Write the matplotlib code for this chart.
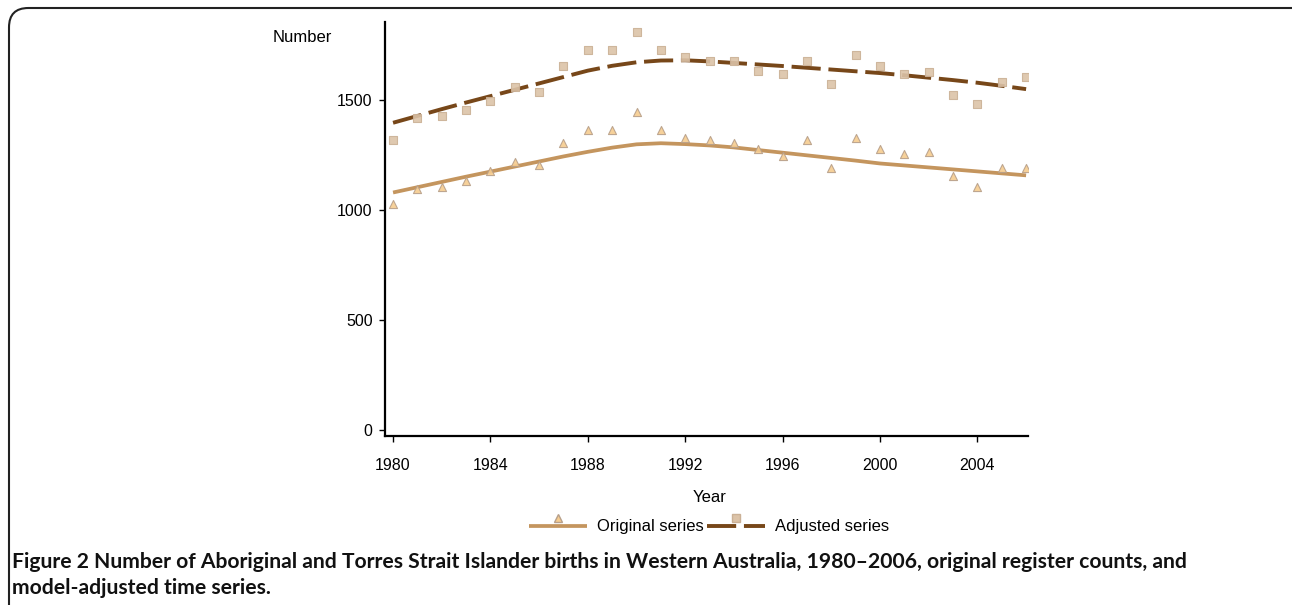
import numpy as np
import matplotlib.pyplot as plt
from matplotlib.patches import FancyBboxPatch
from matplotlib.lines import Line2D
from matplotlib.legend_handler import HandlerBase

plt.rcParams["font.family"] = ["Liberation Sans", "DejaVu Sans"]

years = list(range(1980, 2007))

# register counts (markers)
original = [1026, 1094, 1106, 1132, 1179, 1218, 1205, 1305, 1364, 1364, 1444, 1364, 1330,
            1318, 1303, 1276, 1244, 1317, 1191, 1329, 1276, 1256, 1262, 1153, 1105, 1191, 1191]
adjusted = [1317, 1417, 1429, 1455, 1497, 1561, 1536, 1656, 1727, 1727, 1808, 1727, 1694,
            1676, 1677, 1632, 1620, 1679, 1571, 1705, 1656, 1620, 1630, 1524, 1483, 1583, 1606]

# model fitted trends (lines)
original_fit = [1080, 1104, 1128, 1152, 1175, 1198, 1221, 1244, 1265, 1284, 1299, 1304, 1300,
                1294, 1285, 1273, 1261, 1249, 1237, 1225, 1212, 1203, 1194, 1185, 1176, 1167, 1158]
adjusted_fit = [1397, 1428, 1459, 1489, 1518, 1547, 1576, 1605, 1634, 1656, 1672, 1680, 1681,
                1676, 1669, 1662, 1655, 1647, 1639, 1631, 1623, 1613, 1602, 1591, 1579, 1565, 1550]

xticks = [1980, 1984, 1988, 1992, 1996, 2000, 2004]
yticks = [0, 500, 1000, 1500]

c_orig = "#c4955e"
c_adj = "#774719"
orig_line = dict(color=c_orig, lw=2.7, solid_capstyle="butt")
adj_line = dict(color=c_adj, lw=2.8, dashes=(7.5, 2.0))
orig_mark = dict(marker="^", s=34, facecolor="#f6cc8f", edgecolor="#b8a08a", linewidth=0.8, alpha=0.9)
adj_mark = dict(marker="s", s=30, facecolor="#dcc3a8", edgecolor="#cbb196", linewidth=0.8, alpha=0.9)


class LineMarkerAbove(HandlerBase):
    def __init__(self, line_kw, marker_kw):
        super().__init__()
        self.line_kw = line_kw
        self.marker_kw = marker_kw

    def create_artists(self, legend, orig_handle, xdescent, ydescent, width, height,
                       fontsize, trans):
        y = height / 2 - ydescent
        ln = Line2D([-xdescent, width - xdescent], [y, y], **self.line_kw)
        mk = Line2D([width / 2 - xdescent], [y + height * 0.7], ls="", **self.marker_kw)
        ln.set_transform(trans)
        mk.set_transform(trans)
        return [ln, mk]


fig = plt.figure(figsize=(12.92, 6.05), dpi=100)
ax = fig.add_axes([0.298, 0.2793, 0.4977, 0.6843])

ax.plot(years, original_fit, zorder=2, **orig_line)
ax.plot(years, adjusted_fit, zorder=2, **adj_line)
ax.scatter(years, original, zorder=3, **orig_mark)
ax.scatter(years, adjusted, zorder=3, **adj_mark)

ax.set_xlim(1979.67, 2006.08)
ax.set_ylim(-27, 1855)
ax.set_xticks(xticks)
ax.set_yticks(yticks)
ax.tick_params(labelsize=11.5, length=4, width=1, direction="out", pad=5)
ax.tick_params(axis="x", pad=12)
for s in ["top", "right"]:
    ax.spines[s].set_visible(False)
for s in ["left", "bottom"]:
    ax.spines[s].set_linewidth(1.6)

fig.text(302 / 1292, 1 - 38 / 605, "Number", fontsize=12, ha="center", va="center")
fig.text(710 / 1292, 1 - 497 / 605, "Year", fontsize=12, ha="center", va="center")

h1 = Line2D([], [])
h2 = Line2D([], [])
fig.legend([h1, h2], ["Original series", "Adjusted series"], loc="center",
           bbox_to_anchor=(709 / 1292, 1 - 527 / 605), ncol=2, frameon=False,
           fontsize=12, handlelength=3.5, columnspacing=0.2, handletextpad=0.6,
           handler_map={
               h1: LineMarkerAbove(orig_line, dict(ms=6, mfc="#f6cc8f", mec="#b8a08a", marker="^")),
               h2: LineMarkerAbove(adj_line, dict(ms=5.5, mfc="#dcc3a8", mec="#cbb196", marker="s")),
           })

# caption, fitted so the first line ends near x=1190 px
cap_font = ["Lato", "DejaVu Sans"]
line1 = ("Number of Aboriginal and Torres Strait Islander births in Western Australia, "
         "1980\u20132006, original register counts, and")
fs = 14
t1 = fig.text(12 / 1292, 1 - 562 / 605, "Figure 2", fontsize=fs, fontweight="bold",
              family=cap_font, va="center", ha="left", color="#111111")
t2 = fig.text(0, 1 - 562 / 605, line1, fontsize=fs, fontweight="bold",
              family=cap_font, va="center", ha="left", color="#111111")
t3 = fig.text(12 / 1292, 1 - 588 / 605, "model-adjusted time series.", fontsize=fs,
              fontweight="bold", family=cap_font, va="center", ha="left", color="#111111")
r = fig.canvas.get_renderer()
for _ in range(3):
    w = t1.get_window_extent(r).width + 5 + t2.get_window_extent(r).width
    fs = fs * 1178 / w
    for t in (t1, t2, t3):
        t.set_fontsize(fs)
t2.set_x((t1.get_window_extent(r).x1 + 5) / 1292)

frame = FancyBboxPatch((9 / 1292, -0.1), 1.2, 1.1 - 8 / 605,
                       boxstyle="round,pad=0,rounding_size=0.015",
                       transform=fig.transFigure, fill=False, ec="#222222", lw=1.5,
                       mutation_aspect=1292 / 605)
fig.patches.append(frame)

fig.savefig("out.png", dpi=100)
